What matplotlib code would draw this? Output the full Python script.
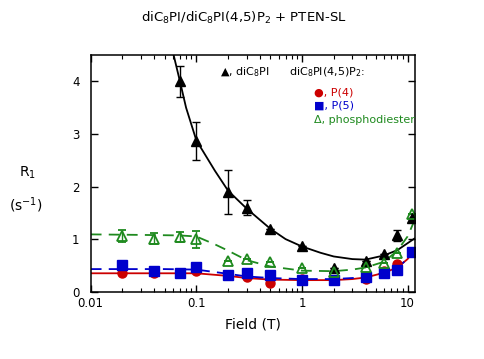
import matplotlib
matplotlib.use("Agg")
import matplotlib.pyplot as plt
import numpy as np

plt.rcParams['font.family'] = ['DejaVu Sans']
plt.rcParams['mathtext.fontset'] = 'dejavusans'

# Data
field = [0.02, 0.04, 0.07, 0.1, 0.2, 0.3, 0.5, 1, 2, 4, 6, 8, 11]

pi_field = [0.07, 0.1, 0.2, 0.3, 0.5, 1, 2, 4, 6, 8, 11]
pi_r1 = [4.0, 2.87, 1.90, 1.60, 1.19, 0.87, 0.46, 0.59, 0.71, 1.07, 1.41]
pi_err = [0.30, 0.36, 0.42, 0.15, 0, 0, 0, 0, 0, 0.10, 0]

p4_r1 = [0.36, 0.35, 0.35, 0.39, 0.31, 0.27, 0.17, 0.25, 0.22, 0.25, 0.39, 0.52, 0.75]
p5_r1 = [0.50, 0.39, 0.36, 0.47, 0.32, 0.35, 0.31, 0.23, 0.22, 0.28, 0.35, 0.41, 0.75]
pd_r1 = [1.06, 1.01, 1.04, 1.00, 0.59, 0.63, 0.57, 0.45, 0.37, 0.47, 0.55, 0.73, 1.47]
pd_err = [0.11, 0.10, 0.10, 0.16, 0, 0, 0, 0, 0, 0, 0, 0, 0]

# fitted curves
pi_fit_x = [0.061, 0.07, 0.08, 0.1, 0.15, 0.2, 0.3, 0.5, 0.7, 1, 1.5, 2, 3, 4, 6, 8, 11.6]
pi_fit_y = [4.5, 4.0, 3.5, 2.88, 2.3, 1.92, 1.58, 1.2, 1.0, 0.86, 0.74, 0.67, 0.62, 0.61, 0.69, 0.79, 1.01]

p4_fit_x = [0.01, 0.05, 0.1, 0.2, 0.3, 0.5, 1, 2, 3, 4, 6, 8, 10, 11.6]
p4_fit_y = [0.35, 0.35, 0.35, 0.30, 0.26, 0.23, 0.22, 0.22, 0.24, 0.27, 0.36, 0.46, 0.62, 0.79]

p5_fit_x = [0.01, 0.05, 0.1, 0.2, 0.3, 0.5, 1, 2, 3, 4, 6, 8, 10, 11.6]
p5_fit_y = [0.43, 0.43, 0.42, 0.34, 0.29, 0.26, 0.24, 0.24, 0.26, 0.28, 0.36, 0.46, 0.62, 0.78]

pd_fit_x = [0.01, 0.03, 0.07, 0.1, 0.15, 0.2, 0.3, 0.5, 1, 2, 3, 4, 6, 8, 10, 11.6]
pd_fit_y = [1.09, 1.08, 1.07, 1.05, 0.90, 0.78, 0.60, 0.48, 0.40, 0.39, 0.42, 0.46, 0.57, 0.78, 1.05, 1.35]

RED = '#cc0000'
BLUE = '#0000cc'
GREEN = '#1f8a1f'

fig = plt.figure(figsize=(4.85, 3.59), dpi=100)
ax = fig.add_axes([0.187, 0.1875, 0.669, 0.659])

ax.plot(pi_fit_x, pi_fit_y, color='black', lw=1.3)
ax.plot(p4_fit_x, p4_fit_y, color=RED, lw=1.3)
ax.plot(p5_fit_x, p5_fit_y, color=BLUE, lw=1.3, dashes=(6, 4))
ax.plot(pd_fit_x, pd_fit_y, color=GREEN, lw=1.3, dashes=(6, 4))

ax.errorbar(pi_field, pi_r1, yerr=pi_err, fmt='^', color='black', ms=6.5,
            capsize=3, elinewidth=1, capthick=1)
ax.plot(field, p4_r1, 'o', color=RED, ms=6.5)
ax.plot(field, p5_r1, 's', color=BLUE, ms=6.5)
ax.errorbar(field, pd_r1, yerr=pd_err, fmt='^', color=GREEN, mfc='none', mew=1.3,
            ms=6.5, capsize=3, elinewidth=1, capthick=1)

ax.set_xscale('log')
ax.set_xlim(0.01, 11.8)
ax.set_ylim(0, 4.5)
ax.set_yticks([0, 1, 2, 3, 4])
ax.set_xticks([0.01, 0.1, 1, 10])
ax.set_xticklabels(['0.01', '0.1', '1', '10'])
ax.tick_params(which='both', direction='in', top=True, right=True, labelsize=8.5)
ax.tick_params(which='major', length=5, width=1)
ax.tick_params(which='minor', length=3, width=0.8)
ax.tick_params(axis='y', pad=8)
for s in ax.spines.values():
    s.set_linewidth(1.1)

ax.set_xlabel('Field (T)', fontsize=10, labelpad=6)
fig.text(0.056, 0.518, r'R$_1$', fontsize=10, ha='center', va='center')
fig.text(0.054, 0.429, r'(s$^{-1}$)', fontsize=10, ha='center', va='center')
fig.text(0.503, 0.95, r'diC$_8$PI/diC$_8$PI(4,5)P$_2$ + PTEN-SL', fontsize=9.5,
         ha='center', va='center')

fs = 8
ax.text(0.399, 0.928, r'▲, diC$_8$PI', fontsize=fs, ha='left', va='center', transform=ax.transAxes)
ax.text(0.611, 0.928, r'diC$_8$PI(4,5)P$_2$:', fontsize=fs, ha='left', va='center', transform=ax.transAxes)
ax.text(0.689, 0.844, '●, P(4)', fontsize=fs, color=RED, ha='left', va='center', transform=ax.transAxes)
ax.text(0.689, 0.785, '■, P(5)', fontsize=fs, color=BLUE, ha='left', va='center', transform=ax.transAxes)
ax.text(0.689, 0.725, 'Δ, phosphodiester', fontsize=fs, color=GREEN, ha='left', va='center', transform=ax.transAxes)

fig.savefig('out.png', dpi=100)
